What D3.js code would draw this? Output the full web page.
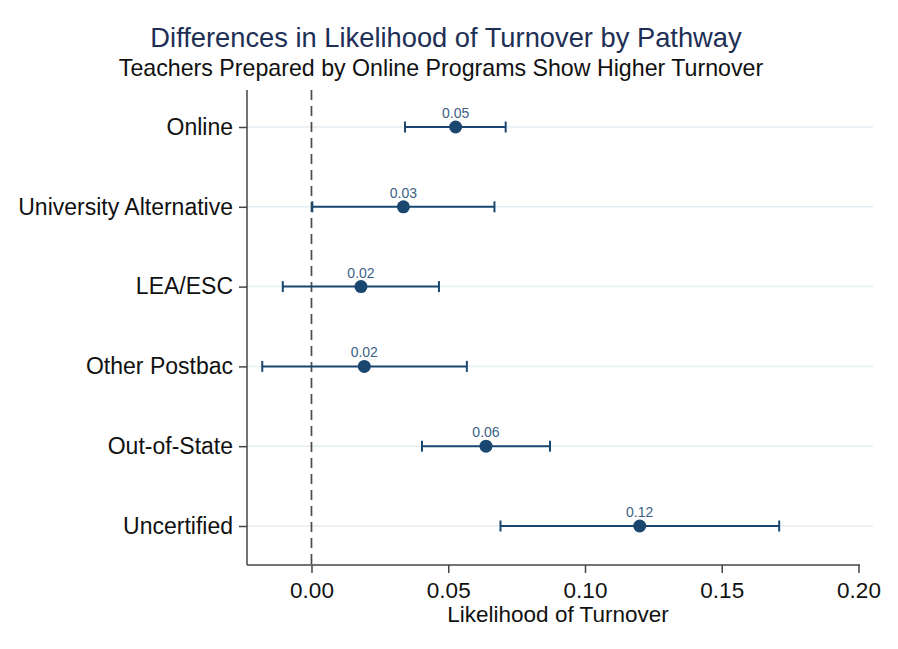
<!DOCTYPE html>
<html><head><meta charset="utf-8">
<script src="https://cdn.jsdelivr.net/npm/d3@7"></script>
<style>body{margin:0;background:#fff}svg{display:block}text{font-family:"Liberation Sans",Arial,sans-serif}</style>
</head><body><div id="chart"></div>
<script>
const categories = ["Online","University Alternative","LEA/ESC","Other Postbac","Out-of-State","Uncertified"];
const estimates = [0.0527,0.0336,0.0181,0.0193,0.0638,0.1200];
const lowerCI = [0.0342,0.0003,-0.0105,-0.0180,0.0404,0.0691];
const upperCI = [0.0710,0.0669,0.0466,0.0568,0.0872,0.1710];
const pointLabels = ["0.05","0.03","0.02","0.02","0.06","0.12"];
const xTicks = [0,0.05,0.10,0.15,0.20];
const title = "Differences in Likelihood of Turnover by Pathway";
const subtitle = "Teachers Prepared by Online Programs Show Higher Turnover";
const xTitle = "Likelihood of Turnover";

(function(){
const W=898,H=649;
const pL=247,pR=860,pT=90,pB=565;
const svg=d3.select("#chart").append("svg").attr("width",W).attr("height",H);
const x=d3.scaleLinear().domain([-0.02358,0.20055]).range([pL,pR]);
const y=d3.scalePoint().domain(categories).range([127,526]);
const navy="#1a476f";
const ff='"Liberation Sans",Arial,sans-serif';

svg.append("g").selectAll("line").data(categories).join("line")
 .attr("x1",pL).attr("x2",873).attr("y1",d=>y(d)).attr("y2",d=>y(d))
 .attr("stroke","#e4edf2").attr("stroke-width",1.5);

svg.append("line").attr("x1",x(0)).attr("x2",x(0)).attr("y1",pT).attr("y2",pB)
 .attr("stroke","#4a4a4a").attr("stroke-width",1.7).attr("stroke-dasharray","10,6");

const xAxis=svg.append("g").attr("transform",`translate(0,${pB})`)
 .call(d3.axisBottom(x).tickValues(xTicks).tickFormat(d3.format(".2f")).tickSize(8).tickPadding(9));
xAxis.select(".domain").attr("d",`M${pL},0H${pR}`).attr("stroke","#444").attr("stroke-width",1.5);
xAxis.selectAll(".tick line").attr("stroke","#444").attr("stroke-width",1.5);
xAxis.selectAll(".tick text").attr("font-size",22.5).attr("fill","#111").attr("font-family",ff);

const yAxis=svg.append("g").attr("transform",`translate(${pL},0)`)
 .call(d3.axisLeft(y).tickSize(8).tickPadding(6));
yAxis.select(".domain").attr("d",`M0,${pT}V${pB}`).attr("stroke","#444").attr("stroke-width",1.5);
yAxis.selectAll(".tick line").attr("stroke","#444").attr("stroke-width",1.5);
yAxis.selectAll(".tick text").attr("font-size",23).attr("fill","#111").attr("font-family",ff);

const g=svg.append("g");
categories.forEach((c,i)=>{
  const yy=y(c);
  g.append("line").attr("x1",x(lowerCI[i])).attr("x2",x(upperCI[i])).attr("y1",yy).attr("y2",yy)
   .attr("stroke",navy).attr("stroke-width",2);
  [lowerCI[i],upperCI[i]].forEach(v=>{
    g.append("line").attr("x1",x(v)).attr("x2",x(v)).attr("y1",yy-5.5).attr("y2",yy+5.5)
     .attr("stroke",navy).attr("stroke-width",2);
  });
  g.append("circle").attr("cx",x(estimates[i])).attr("cy",yy).attr("r",6.5).attr("fill",navy);
  g.append("text").attr("x",x(estimates[i])).attr("y",yy-9).attr("text-anchor","middle")
   .attr("font-size",14).attr("fill","#3d5f86").text(pointLabels[i]);
});

svg.append("text").attr("x",446).attr("y",47).attr("text-anchor","middle")
 .attr("font-size",27.3).attr("fill","#1e2f55").text(title);
svg.append("text").attr("x",441).attr("y",76).attr("text-anchor","middle")
 .attr("font-size",23.2).attr("fill","#111").text(subtitle);
svg.append("text").attr("x",558).attr("y",622).attr("text-anchor","middle")
 .attr("font-size",22.5).attr("fill","#111").text(xTitle);
})();
</script></body></html>
